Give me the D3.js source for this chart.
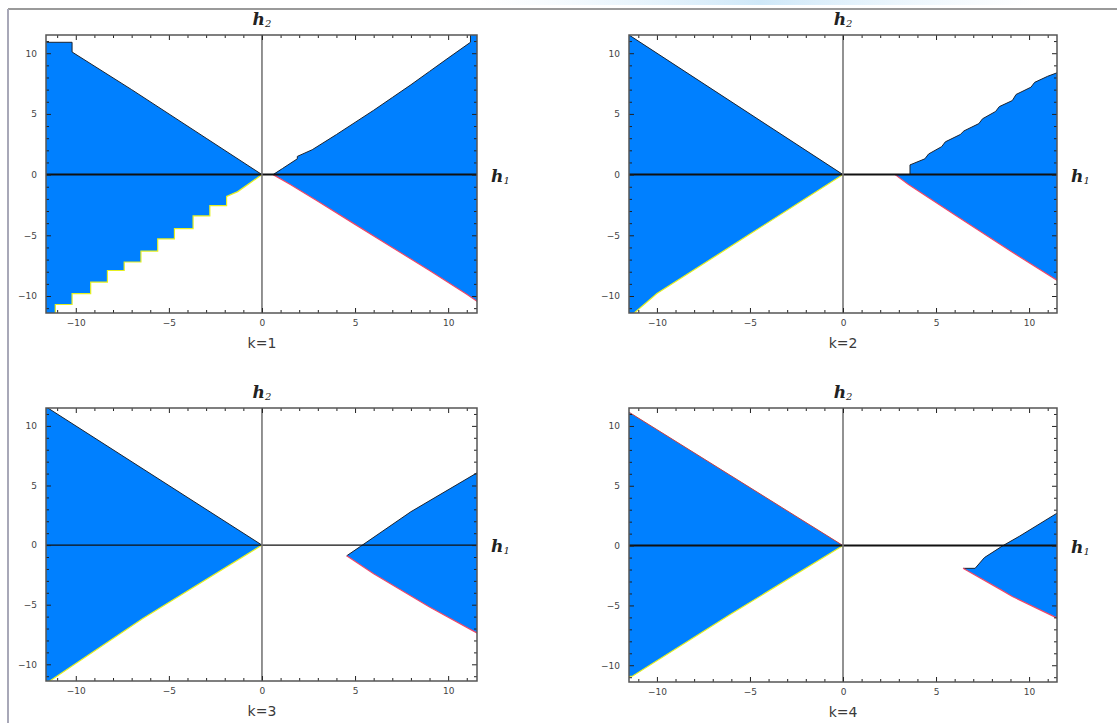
<!DOCTYPE html>
<html>
<head>
<meta charset="utf-8">
<script src="https://cdn.jsdelivr.net/npm/d3@7"></script>
<style>
  body { margin: 0; background: #fff; }
  svg { display: block; }
  .tick text { font-family: "DejaVu Sans", sans-serif; font-size: 9px; fill: #444; }
  .tick line { stroke: #222; }
  .domain { display: none; }
</style>
</head>
<body>
<svg id="chart" width="1117" height="723"></svg>
<script>
// ticks shown on every panel
var tickValues = [-10, -5, 0, 5, 10];
var minorTicks = d3.range(-11, 12);
var panelLabels = ["k=1", "k=2", "k=3", "k=4"];

// stable regions, each as [upper edge, lower edge] in (h1, h2)
var k1Regions = [
  [
    [[-11.7, 10.9], [-10.2, 10.9], [-10.2, 10.1], [-7, 7.0], [-3, 3.0], [0, 0]],
    [[-11.7, -11.5], [-11.1, -11.5], [-11.1, -10.7], [-10.2, -10.7], [-10.2, -9.8], [-9.2, -9.8],
     [-9.2, -8.85], [-8.3, -8.85], [-8.3, -7.9], [-7.4, -7.9], [-7.4, -7.2], [-6.5, -7.2],
     [-6.5, -6.3], [-5.6, -6.3], [-5.6, -5.3], [-4.7, -5.3], [-4.7, -4.45], [-3.7, -4.45],
     [-3.7, -3.4], [-2.8, -3.4], [-2.8, -2.55], [-1.9, -2.55], [-1.9, -1.8], [-1.3, -1.4], [0, 0]]
  ],
  [
    [[0.6, 0], [1.1, 0.5], [1.9, 1.3], [1.9, 1.5], [2.7, 2.05], [4, 3.3], [5, 4.3], [6, 5.3],
     [7, 6.35], [8, 7.4], [9, 8.5], [10, 9.6], [11.2, 10.9], [11.2, 11.6], [11.7, 11.6]],
    [[0.6, 0], [1.5, -0.8], [3, -2.2], [5, -4.1], [7, -6.0], [9, -7.9], [11, -9.85], [11.7, -10.6]]
  ]
];
var k2Regions = [
  [
    [[-11.7, 11.6], [-11.45, 11.45], [0, 0]],
    [[-11.7, -11.5], [-11.3, -11.5], [-10, -9.8], [-5, -4.9], [0, 0]]
  ],
  [
    [[2.8, 0], [3.6, 0], [3.6, 0.8], [4.4, 1.3], [4.6, 1.7], [5.3, 2.3], [5.5, 2.7], [6.3, 3.3],
     [6.5, 3.6], [7.3, 4.2], [7.5, 4.6], [8.2, 5.2], [8.4, 5.6], [9.1, 6.1], [9.3, 6.6],
     [10.1, 7.2], [10.3, 7.6], [11.0, 8.1], [11.7, 8.5]],
    [[2.8, 0], [3.5, -0.8], [6, -3.3], [9, -6.3], [11.7, -8.9]]
  ]
];
var k3Regions = [
  [
    [[-11.7, 11.6], [-11.5, 11.5], [0, 0]],
    [[-11.7, -11.5], [-11.4, -11.4], [-6.4, -6.15], [0, 0]]
  ],
  [
    [[4.55, -0.9], [5.3, -0.1], [8, 2.8], [11.7, 6.2]],
    [[4.55, -0.9], [6, -2.4], [9, -5.2], [11.7, -7.5]]
  ]
];
var k4Regions = [
  [
    [[-11.7, 11.2], [-11.45, 11.1], [0, 0]],
    [[-11.7, -11.0], [-11.3, -10.9], [-6, -5.7], [0, 0]]
  ],
  [
    [[6.45, -1.9], [7.1, -1.9], [7.6, -1.0], [8.6, 0], [9.5, 0.8], [11.7, 2.9]],
    [[6.45, -1.9], [8.5, -3.7], [9.1, -4.25], [11.7, -6.2]]
  ]
];
var allRegions = [k1Regions, k2Regions, k3Regions, k4Regions];

// plot frames (px)
var frames = [
  {left: 46, right: 477, top: 35, bottom: 313, xd: [-11.6, 11.55]},
  {left: 629, right: 1057, top: 35, bottom: 313, xd: [-11.5, 11.5]},
  {left: 46, right: 477, top: 408, bottom: 681, xd: [-11.6, 11.55]},
  {left: 629, right: 1057, top: 408, bottom: 682, xd: [-11.5, 11.5]}
];

var svg = d3.select("#chart");

// faint page artefact and outer border
var grad = svg.append("defs").append("linearGradient").attr("id", "glow");
grad.append("stop").attr("offset", "0%").attr("stop-color", "#dff0fb").attr("stop-opacity", 0);
grad.append("stop").attr("offset", "50%").attr("stop-color", "#cfe8f8").attr("stop-opacity", 1);
grad.append("stop").attr("offset", "100%").attr("stop-color", "#dff0fb").attr("stop-opacity", 0);
svg.append("rect").attr("x", 480).attr("y", 0).attr("width", 560).attr("height", 5).attr("fill", "url(#glow)");
svg.append("line").attr("x1", 8).attr("x2", 1117).attr("y1", 9).attr("y2", 9)
   .attr("stroke", "#9a9a9a").attr("stroke-width", 2);
svg.append("line").attr("x1", 8).attr("x2", 8).attr("y1", 9).attr("y2", 723)
   .attr("stroke", "#a8a8b8").attr("stroke-width", 2);

var fmt = function(d) { return d < 0 ? "\u2212" + Math.abs(d) : String(d); };

frames.forEach(function(f, i) {
  var x = d3.scaleLinear().domain(f.xd).range([f.left, f.right]);
  var y = d3.scaleLinear().domain([-11.4, 11.5]).range([f.bottom, f.top]);
  var g = svg.append("g");

  g.append("clipPath").attr("id", "clip" + i)
   .append("rect").attr("x", f.left).attr("y", f.top)
   .attr("width", f.right - f.left).attr("height", f.bottom - f.top);

  var plot = g.append("g").attr("clip-path", "url(#clip" + i + ")");
  var line = d3.line().x(function(d) { return x(d[0]); }).y(function(d) { return y(d[1]); });

  allRegions[i].forEach(function(r, j) {
    var poly = r[0].concat(r[1].slice().reverse());
    plot.append("path").attr("d", line(poly) + "Z").attr("fill", "#0080ff");
    plot.append("path").attr("d", line(r[0])).attr("fill", "none")
        .attr("stroke", i === 3 && j === 0 ? "#c84040" : "#1c2430").attr("stroke-width", 1);
    plot.append("path").attr("d", line(r[1])).attr("fill", "none")
        .attr("stroke", j === 0 ? "#e6f020" : "#f04868").attr("stroke-width", 1.2);
  });

  // coordinate axes through the origin
  plot.append("line").attr("x1", f.left).attr("x2", f.right).attr("y1", y(0)).attr("y2", y(0))
      .attr("stroke", "#111").attr("stroke-width", i === 2 ? 1.2 : 2);
  plot.append("line").attr("x1", x(0)).attr("x2", x(0)).attr("y1", f.top).attr("y2", f.bottom)
      .attr("stroke", "#777").attr("stroke-width", 1.6);

  var lbl = function(d) { return tickValues.indexOf(d) >= 0 ? fmt(d) : ""; };
  var major = function(d) { return d % 5 === 0; };

  var ab = g.append("g").attr("transform", "translate(0," + f.bottom + ")")
    .call(d3.axisBottom(x).tickValues(minorTicks).tickSize(-3).tickPadding(8).tickFormat(lbl));
  var at = g.append("g").attr("transform", "translate(0," + f.top + ")")
    .call(d3.axisTop(x).tickValues(minorTicks).tickSize(-3).tickFormat(""));
  var al = g.append("g").attr("transform", "translate(" + f.left + ",0)")
    .call(d3.axisLeft(y).tickValues(minorTicks).tickSize(-3).tickPadding(9).tickFormat(lbl));
  var ar = g.append("g").attr("transform", "translate(" + f.right + ",0)")
    .call(d3.axisRight(y).tickValues(minorTicks).tickSize(-3).tickFormat(""));
  [ab, at].forEach(function(a, k) {
    a.selectAll(".tick line").filter(major).attr("y2", k === 0 ? -5 : 5);
  });
  [al, ar].forEach(function(a, k) {
    a.selectAll(".tick line").filter(major).attr("x2", k === 0 ? 5 : -5);
  });
  ab.selectAll(".tick text").attr("dy", "0.6em");

  g.append("rect").attr("x", f.left).attr("y", f.top)
   .attr("width", f.right - f.left).attr("height", f.bottom - f.top)
   .attr("fill", "none").attr("stroke", "#555").attr("stroke-width", 1.5);

  // variable names and panel caption
  var t2 = g.append("text").attr("x", x(0)).attr("y", f.top - 10).attr("text-anchor", "middle")
    .attr("font-family", "DejaVu Serif, serif").attr("font-style", "italic").attr("font-weight", "bold")
    .attr("font-size", 17).attr("fill", "#222").text("h");
  t2.append("tspan").attr("font-size", 10).attr("font-weight", "normal").attr("dy", 2).text("2");

  var t1 = g.append("text").attr("x", f.right + 14).attr("y", y(0) + 7)
    .attr("font-family", "DejaVu Serif, serif").attr("font-style", "italic").attr("font-weight", "bold")
    .attr("font-size", 17).attr("fill", "#222").text("h");
  t1.append("tspan").attr("font-size", 10).attr("font-weight", "normal").attr("dy", 2).text("1");

  g.append("text").attr("x", x(0)).attr("y", f.bottom + 35).attr("text-anchor", "middle")
   .attr("font-family", "DejaVu Sans, sans-serif").attr("font-size", 14).attr("fill", "#3a3a3a")
   .text(panelLabels[i]);
});
</script>
</body>
</html>
